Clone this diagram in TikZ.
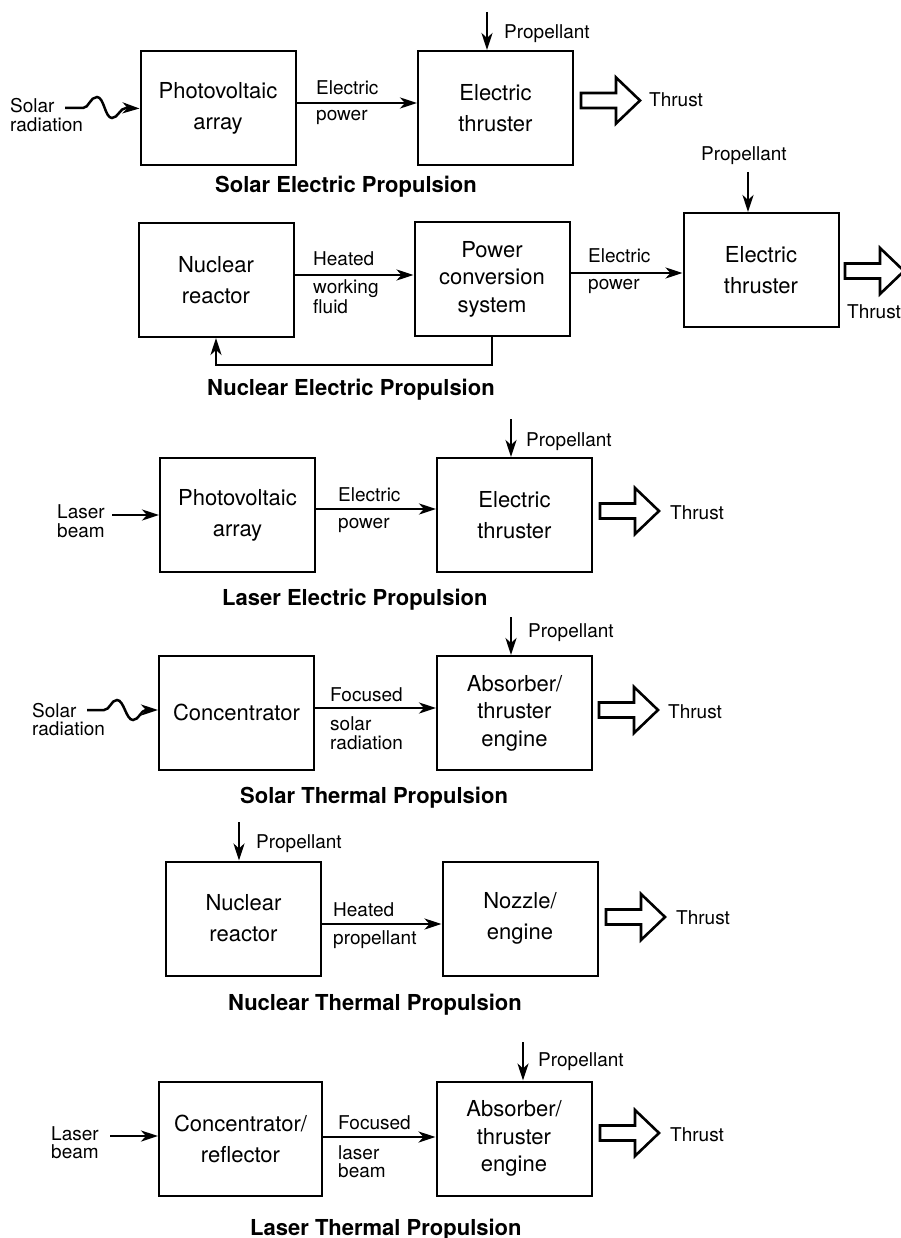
\documentclass[tikz,border=0pt]{standalone}
\usepackage{fontspec}
\setmainfont{TeX Gyre Heros}
\usetikzlibrary{arrows.meta,calc}
\tikzset{
 box/.style={draw, line width=2pt, minimum width=155pt, minimum height=114pt, inner sep=0pt, align=center, font=\fontsize{22}{31}\selectfont},
 box3/.style={box, font=\fontsize{22}{27.5}\selectfont},
 lbl/.style={inner sep=0pt, anchor=base west, font=\fontsize{19}{19}\selectfont},
 ttl/.style={inner sep=0pt, anchor=base west, font=\fontsize{22}{22}\selectfont\bfseries},
 arr/.style={line width=2.5pt, -{Stealth[length=17pt,width=11pt,inset=5pt]}},
 thrustarr/.pic={\draw[line width=2.6pt, miter limit=10] (0,-7.5) -- (35,-7.5) -- (35,-23) -- (59,0) -- (35,23) -- (35,7.5) -- (0,7.5) -- cycle;}
}
\begin{document}
\begin{tikzpicture}[x=1pt,y=-1pt]
\fill[white] (0,0) rectangle (900,1238);
\useasboundingbox (0,0) rectangle (900,1238);

% ---------- Solar Electric Propulsion ----------
\node[box] (pv1) at (218,108.5) {Photovoltaic\\array};
\node[box] (th1) at (495.5,108) {Electric\\thruster};
\node[lbl] (sr1a) at (10,113) {Solar};
\node[lbl] (sr1b) at (10,132) {radiation};
\coordinate (w1) at (65,108);
\draw[arr] (w1) -- (83,108) .. controls (89,108) and (90,97) .. (97,97)
  .. controls (104,97) and (105,118) .. (112,118)
  .. controls (118,118) and (120,108) .. (126,108) -- (pv1.west);
\draw[arr] (pv1.east |- 0,103) -- (th1.west |- 0,103);
\node[lbl] (ep1a) at (316,95) {Electric};
\node[lbl] (ep1b) at (316,121) {power};
\coordinate (p1) at (487,12);
\draw[arr] (p1) -- (p1 |- th1.north);
\node[lbl] (pl1) at (504,39) {Propellant};
\pic (t1) at (581,100.5) {thrustarr};
\node[lbl] (tl1) at (649,107) {Thrust};
\node[ttl] (ti1) at (215,193) {Solar Electric Propulsion};

% ---------- Nuclear Electric Propulsion ----------
\node[box] (nr2) at (216,280) {Nuclear\\reactor};
\node[box3] (pc2) at (492,279) {Power\\conversion\\system};
\node[box] (th2) at (761,270) {Electric\\thruster};
\draw[arr] (nr2.east |- 0,275) -- (pc2.west |- 0,275);
\node[lbl] (hw2a) at (313,266) {Heated};
\node[lbl] (hw2b) at (313,294) {working};
\node[lbl] (hw2c) at (313,313) {fluid};
\draw[arr] (pc2.east |- 0,273) -- (th2.west |- 0,273);
\node[lbl] (ep2a) at (588,263) {Electric};
\node[lbl] (ep2b) at (588,290) {power};
\coordinate (p2) at (748,172);
\draw[arr] (p2) -- (p2 |- th2.north);
\node[lbl] (pl2) at (701,161) {Propellant};
\pic (t2) at (845,271) {thrustarr};
\node[lbl] (tl2) at (847,318) {Thrust};
\draw[arr] (pc2.south) |- ($(nr2.south)+(0,27)$) -- (nr2.south);
\node[ttl] (ti2) at (207,395) {Nuclear Electric Propulsion};

% ---------- Laser Electric Propulsion ----------
\node[box] (pv3) at (237.5,515) {Photovoltaic\\array};
\node[box] (th3) at (514.5,515) {Electric\\thruster};
\node[lbl] (lb3a) at (57,518) {Laser};
\node[lbl] (lb3b) at (57,537) {beam};
\coordinate (l3) at (112,515);
\draw[arr] (l3) -- (pv3.west);
\draw[arr] (pv3.east |- 0,509) -- (th3.west |- 0,509);
\node[lbl] (ep3a) at (338,501) {Electric};
\node[lbl] (ep3b) at (338,528) {power};
\coordinate (p3) at (511,419);
\draw[arr] (p3) -- (p3 |- th3.north);
\node[lbl] (pl3) at (526,446) {Propellant};
\pic (t3) at (600,511) {thrustarr};
\node[lbl] (tl3) at (670,519) {Thrust};
\node[ttl] (ti3) at (222,605) {Laser Electric Propulsion};

% ---------- Solar Thermal Propulsion ----------
\node[box] (co4) at (236.5,712.5) {Concentrator};
\node[box3] (ab4) at (514.5,713) {Absorber/\\thruster\\engine};
\node[lbl] (sr4a) at (32,717) {Solar};
\node[lbl] (sr4b) at (32,735) {radiation};
\coordinate (w4) at (87,710);
\draw[arr] (w4) -- (104,710) .. controls (110,710) and (111,700) .. (117,700)
  .. controls (124,700) and (126,720) .. (133,720)
  .. controls (139,720) and (141,710) .. (146,710) -- (co4.west |- w4);
\draw[arr] (co4.east |- 0,708) -- (ab4.west |- 0,708);
\node[lbl] (fs4a) at (330,701) {Focused};
\node[lbl] (fs4b) at (330,730) {solar};
\node[lbl] (fs4c) at (330,749) {radiation};
\coordinate (p4) at (511,617);
\draw[arr] (p4) -- (p4 |- ab4.north);
\node[lbl] (pl4) at (528,637) {Propellant};
\pic (t4) at (599,710) {thrustarr};
\node[lbl] (tl4) at (668,718) {Thrust};
\node[ttl] (ti4) at (240,803) {Solar Thermal Propulsion};

% ---------- Nuclear Thermal Propulsion ----------
\node[box] (nr5) at (243.5,918.5) {Nuclear\\reactor};
\node[box] (nz5) at (520,918.5) {Nozzle/\\engine};
\coordinate (p5) at (239,822);
\draw[arr] (p5) -- (p5 |- nr5.north);
\node[lbl] (pl5) at (256,848) {Propellant};
\draw[arr] (nr5.east |- 0,924) -- (nz5.west |- 0,924);
\node[lbl] (hp5a) at (333,916) {Heated};
\node[lbl] (hp5b) at (333,944) {propellant};
\pic (t5) at (606,917) {thrustarr};
\node[lbl] (tl5) at (676,924) {Thrust};
\node[ttl] (ti5) at (228,1010) {Nuclear Thermal Propulsion};

% ---------- Laser Thermal Propulsion ----------
\node[box, minimum width=163pt] (cr6) at (240.5,1139) {Concentrator/\\reflector};
\node[box3] (ab6) at (514,1138.5) {Absorber/\\thruster\\engine};
\node[lbl] (lb6a) at (51,1140) {Laser};
\node[lbl] (lb6b) at (51,1158) {beam};
\coordinate (l6) at (110,1136);
\draw[arr] (l6) -- (cr6.west |- l6);
\draw[arr] (cr6.east |- 0,1137) -- (ab6.west |- 0,1137);
\node[lbl] (fl6a) at (338,1129) {Focused};
\node[lbl] (fl6b) at (338,1159) {laser};
\node[lbl] (fl6c) at (338,1177) {beam};
\coordinate (p6) at (523,1042);
\draw[arr] (p6) -- (p6 |- ab6.north);
\node[lbl] (pl6) at (538,1066) {Propellant};
\pic (t6) at (600,1133) {thrustarr};
\node[lbl] (tl6) at (670,1141) {Thrust};
\node[ttl] (ti6) at (250,1235) {Laser Thermal Propulsion};
\end{tikzpicture}
\end{document}
